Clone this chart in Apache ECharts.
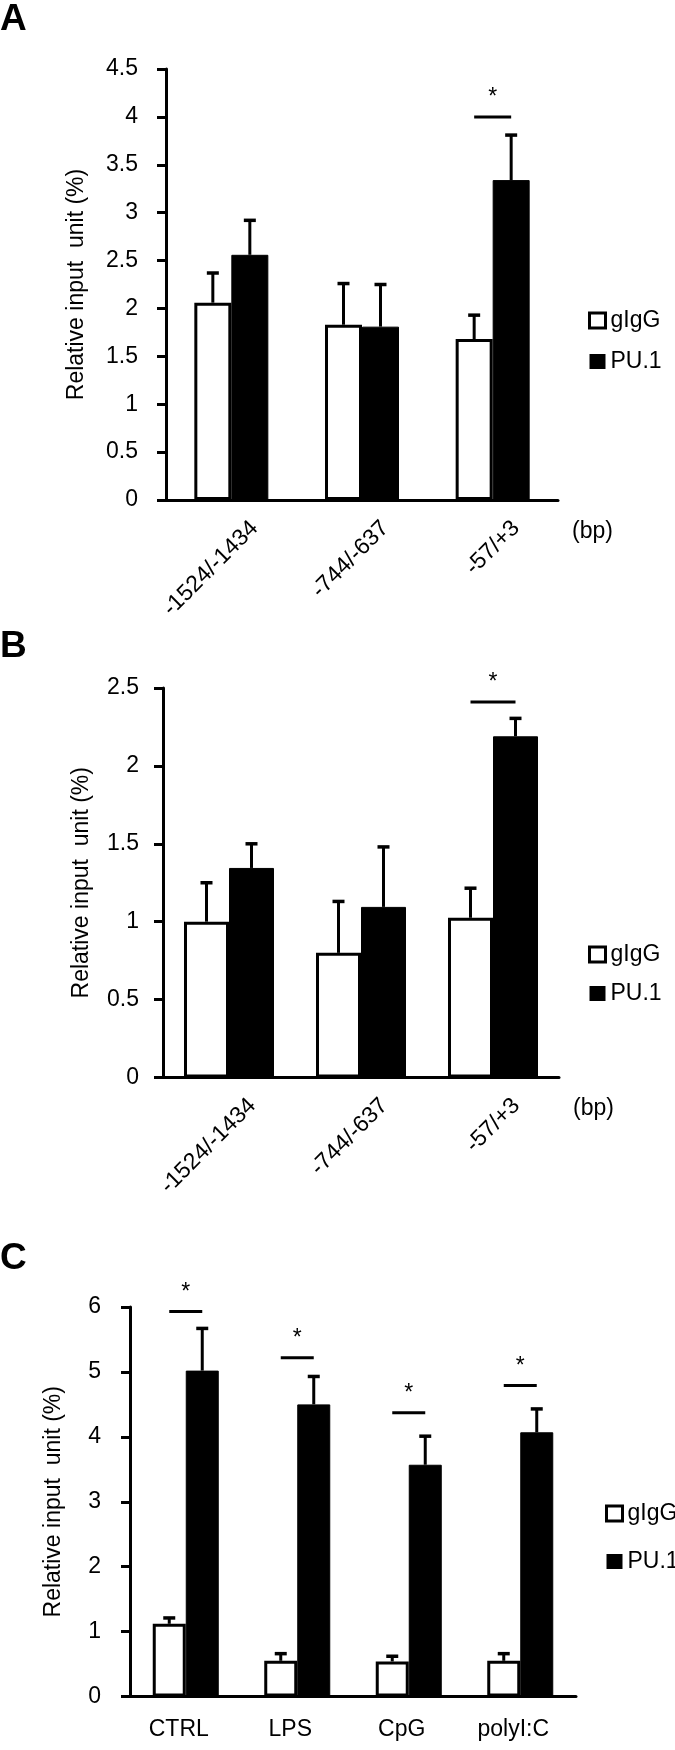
<!DOCTYPE html>
<html>
<head>
<meta charset="utf-8">
<script src="https://cdn.jsdelivr.net/npm/echarts@6/dist/echarts.min.js"></script>
<style>
html, body { margin: 0; padding: 0; background: #fff; }
#chart { width: 675px; height: 1750px; }
</style>
</head>
<body>
<div id="chart"></div>
<script>
// panel A: promoter regions
var catsA = ['-1524/-1434', '-744/-637', '-57/+3'];
var iggA = [2.06, 1.83, 1.68];
var iggErrA = [0.31, 0.43, 0.25];
var puA = [2.56, 1.81, 3.34];
var puErrA = [0.36, 0.44, 0.47];
var sigA = [null, null, 4.0];

// panel B
var catsB = ['-1524/-1434', '-744/-637', '-57/+3'];
var iggB = [1.0, 0.8, 1.025];
var iggErrB = [0.25, 0.33, 0.19];
var puB = [1.345, 1.095, 2.19];
var puErrB = [0.155, 0.385, 0.115];
var sigB = [null, null, 2.41];

// panel C: stimulation
var catsC = ['CTRL', 'LPS', 'CpG', 'polyI:C'];
var iggC = [1.12, 0.55, 0.54, 0.55];
var iggErrC = [0.09, 0.11, 0.08, 0.11];
var puC = [5.02, 4.50, 3.57, 4.07];
var puErrC = [0.65, 0.43, 0.44, 0.36];
var sigC = [5.93, 5.22, 4.37, 4.79];

var seriesNames = ['gIgG', 'PU.1'];
var yName = 'Relative input  unit (%)';
var font = "'Liberation Sans', Arial, sans-serif";
var fs = 23;

var panels = [
  {letter: 'A', cats: catsA, igg: iggA, iggErr: iggErrA, pu: puA, puErr: puErrA, sig: sigA,
    max: 4.5, step: 0.5, bw: 37, rotate: true, labMargin: 28, nameGap: 78,
    grid: {left: 166, top: 69, width: 392, height: 431},
    legend: {left: 583, top: 304, itemGap: 18}, letterTop: 1},
  {letter: 'B', cats: catsB, igg: iggB, iggErr: iggErrB, pu: puB, puErr: puErrB, sig: sigB,
    max: 2.5, step: 0.5, bw: 45, rotate: true, labMargin: 24, nameGap: 70,
    grid: {left: 163, top: 688, width: 396, height: 389.5},
    legend: {left: 583, top: 938, itemGap: 16}, letterTop: 628},
  {letter: 'C', cats: catsC, igg: iggC, iggErr: iggErrC, pu: puC, puErr: puErrC, sig: sigC,
    max: 6, step: 1, bw: 33, rotate: false, labMargin: 29, nameGap: 65,
    grid: {left: 130, top: 1307, width: 446, height: 389.5},
    legend: {left: 600, top: 1497, itemGap: 25}, letterTop: 1240}
];

function errData(vals, errs, side) {
  return vals.map(function (v, i) { return [i, v, errs[i], side]; });
}

function sigData(sig) {
  var out = [];
  sig.forEach(function (s, i) {
    if (s != null) out.push([i, s]);
  });
  return out;
}

// 误差线，只画向上的一半
function errRender(bw) {
  return function (params, api) {
    var i = api.value(0), v = api.value(1), e = api.value(2), side = api.value(3);
    var p0 = api.coord([i, v]);
    var p1 = api.coord([i, v + e]);
    var x = p0[0] + side * bw / 2;
    return {
      type: 'group',
      children: [
        {type: 'line', shape: {x1: x, y1: p0[1], x2: x, y2: p1[1]}, style: {stroke: '#000', lineWidth: 3}},
        {type: 'line', shape: {x1: x - 6, y1: p1[1], x2: x + 6, y2: p1[1]}, style: {stroke: '#000', lineWidth: 3.5}}
      ]
    };
  };
}

// 显著性横线和星号
function sigRender(bw) {
  return function (params, api) {
    var p = api.coord([api.value(0), api.value(1)]);
    return {
      type: 'group',
      children: [
        {type: 'line', shape: {x1: p[0] - bw / 2, y1: p[1], x2: p[0] + bw / 2, y2: p[1]}, style: {stroke: '#000', lineWidth: 3}},
        {type: 'text', x: p[0], y: p[1] - 19, style: {text: '*', fill: '#000', font: '23px ' + font, align: 'center', verticalAlign: 'middle'}}
      ]
    };
  };
}

var option = {
  animation: false,
  backgroundColor: '#fff',
  grid: [], xAxis: [], yAxis: [], legend: [], series: [], graphic: []
};

panels.forEach(function (pn, k) {
  option.grid.push(pn.grid);
  option.xAxis.push({
    type: 'category',
    gridIndex: k,
    data: pn.cats,
    name: pn.rotate ? '\n(bp)' : '',
    nameLocation: 'end',
    nameGap: 14,
    nameTextStyle: {color: '#000', fontSize: fs, fontFamily: font, verticalAlign: 'top', lineHeight: 21},
    axisLine: {lineStyle: {color: '#000', width: 3}},
    axisTick: {length: 8, lineStyle: {color: '#000', width: 3}},
    axisLabel: pn.rotate ? {
      interval: 0, rotate: 45, margin: 48, padding: [0, -33, 0, 0],
      color: '#000', fontSize: fs, fontFamily: font
    } : {
      interval: 0, margin: 22, padding: [0, 14, 0, 0],
      color: '#000', fontSize: fs, fontFamily: font
    }
  });
  option.yAxis.push({
    type: 'value',
    gridIndex: k,
    min: 0, max: pn.max, interval: pn.step,
    name: yName,
    nameLocation: 'middle',
    nameGap: pn.nameGap,
    nameTextStyle: {color: '#000', fontSize: fs, fontFamily: font},
    axisLine: {show: true, lineStyle: {color: '#000', width: 3}},
    axisTick: {show: true, length: 9, lineStyle: {color: '#000', width: 3}},
    axisLabel: {color: '#000', fontSize: fs, fontFamily: font, margin: pn.labMargin},
    splitLine: {show: false}
  });
  option.legend.push({
    orient: 'vertical',
    left: pn.legend.left, top: pn.legend.top,
    itemGap: pn.legend.itemGap,
    itemWidth: 16, itemHeight: 15,
    icon: 'rect',
    textStyle: {color: '#000', fontSize: fs, fontFamily: font, lineHeight: 23},
    selectedMode: false,
    data: [
      {name: seriesNames[0], itemStyle: {color: '#fff', borderColor: '#000', borderWidth: 3}},
      {name: seriesNames[1], itemStyle: {color: '#000', borderWidth: 0}}
    ]
  });
  option.series.push({
    name: seriesNames[0], type: 'bar', xAxisIndex: k, yAxisIndex: k,
    data: pn.igg, barWidth: pn.bw, barGap: '0%',
    itemStyle: {color: '#fff', borderColor: '#000', borderWidth: 3}
  });
  option.series.push({
    name: seriesNames[1], type: 'bar', xAxisIndex: k, yAxisIndex: k,
    data: pn.pu, barWidth: pn.bw, barGap: '0%',
    itemStyle: {color: '#000', borderColor: '#000', borderWidth: 1}
  });
  option.series.push({
    type: 'custom', xAxisIndex: k, yAxisIndex: k, z: 5,
    renderItem: errRender(pn.bw),
    data: errData(pn.igg, pn.iggErr, -1).concat(errData(pn.pu, pn.puErr, 1))
  });
  option.series.push({
    type: 'custom', xAxisIndex: k, yAxisIndex: k, z: 5,
    renderItem: sigRender(pn.bw),
    data: sigData(pn.sig)
  });
  option.graphic.push({
    type: 'text', left: 0, top: pn.letterTop,
    style: {text: pn.letter, fill: '#000', font: 'bold 37px ' + font}
  });
});

var chart = echarts.init(document.getElementById('chart'), null, {renderer: 'canvas'});
chart.setOption(option);
</script>
</body>
</html>
